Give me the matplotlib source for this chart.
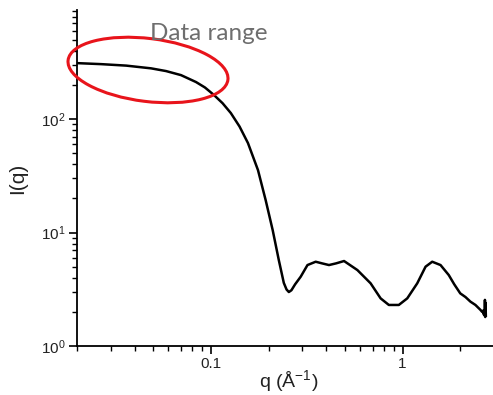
import matplotlib
matplotlib.use('Agg')
import matplotlib.pyplot as plt
import matplotlib.patches as mpatches
import matplotlib.ticker as mticker
import numpy as np

plt.rcParams['font.family'] = ['Liberation Sans', 'DejaVu Sans']
plt.rcParams['mathtext.default'] = 'regular'

# scattering curve
q = [0.0203, 0.0267, 0.0361, 0.0487, 0.0583, 0.0698, 0.0836, 0.0930, 0.1037,
     0.115, 0.127, 0.141, 0.156, 0.176, 0.193, 0.210, 0.226, 0.240, 0.248,
     0.255, 0.263, 0.275, 0.294, 0.319, 0.352, 0.380, 0.413, 0.450, 0.495,
     0.581, 0.681, 0.768, 0.848, 0.956, 1.058, 1.193, 1.318, 1.428, 1.578,
     1.742, 1.86, 2.00, 2.13, 2.26, 2.40, 2.55, 2.60, 2.63, 2.65, 2.67,
     2.68, 2.69, 2.70, 2.71, 2.72]
intensity = [311, 305, 296, 280, 265, 244, 212, 190, 163,
             138, 113, 86, 61.5, 35.5, 19.3, 10.5, 5.72, 3.6, 3.15,
             2.99, 3.1, 3.5, 4.08, 5.17, 5.53, 5.35, 5.17, 5.35, 5.61,
             4.67, 3.57, 2.63, 2.30, 2.30, 2.63, 3.57, 5.0, 5.53, 5.17,
             4.22, 3.5, 2.91, 2.7, 2.46, 2.3, 2.08, 2.0, 2.05, 1.9, 2.0,
             1.85, 2.55, 1.8, 2.4, 1.85]

q_ticks = [0.1, 1]
q_tick_labels = ['0.1', '1']

fig = plt.figure(figsize=(4.93, 3.95), dpi=100)
ax = fig.add_axes([77 / 493, 49 / 395, 417 / 493, 336 / 395])

ax.plot(q, intensity, color='black', lw=1.8)
ax.set_xscale('log')
ax.set_yscale('log')
ax.set_xlim(0.0200, 3.0)
ax.set_ylim(1, 915)

ax.xaxis.set_major_locator(mticker.FixedLocator(q_ticks))
ax.xaxis.set_major_formatter(mticker.FixedFormatter(q_tick_labels))
ax.xaxis.set_minor_locator(mticker.LogLocator(subs=np.arange(2, 10)))
ax.xaxis.set_minor_formatter(mticker.NullFormatter())
ax.yaxis.set_minor_locator(mticker.LogLocator(subs=np.arange(2, 10)))

for s in ['top', 'right']:
    ax.spines[s].set_visible(False)
for s in ['left', 'bottom']:
    ax.spines[s].set_linewidth(1.3)
ax.tick_params(which='major', direction='out', length=6, width=1.2, pad=2)
ax.tick_params(which='minor', direction='out', length=3.5, width=1.0)
for lab in ax.get_xticklabels() + ax.get_yticklabels():
    lab.set_family(['Liberation Sans Narrow', 'Liberation Sans'])
    lab.set_fontsize(11)
    lab.set_color('#222222')

ax.set_xlabel('q (Å$^{-1}$)', fontsize=14, color='#222222', va='center')
ax.xaxis.set_label_coords(0.508, -0.104)
ax.set_ylabel('I(q)', fontsize=15, labelpad=10, color='#222222')

ell = mpatches.Ellipse((1.48, 3.25), 1.61, 0.63, angle=-7,
                       transform=fig.dpi_scale_trans, fill=False,
                       edgecolor='#e8141b', lw=2.2, clip_on=False)
fig.patches.append(ell)

fig.text(150 / 493, (395 - 40) / 395, 'Data range', fontsize=17.5, color='#6e6e6e',
         family=['Lato', 'DejaVu Sans'], va='baseline', ha='left')

fig.savefig('out.png', dpi=100)
